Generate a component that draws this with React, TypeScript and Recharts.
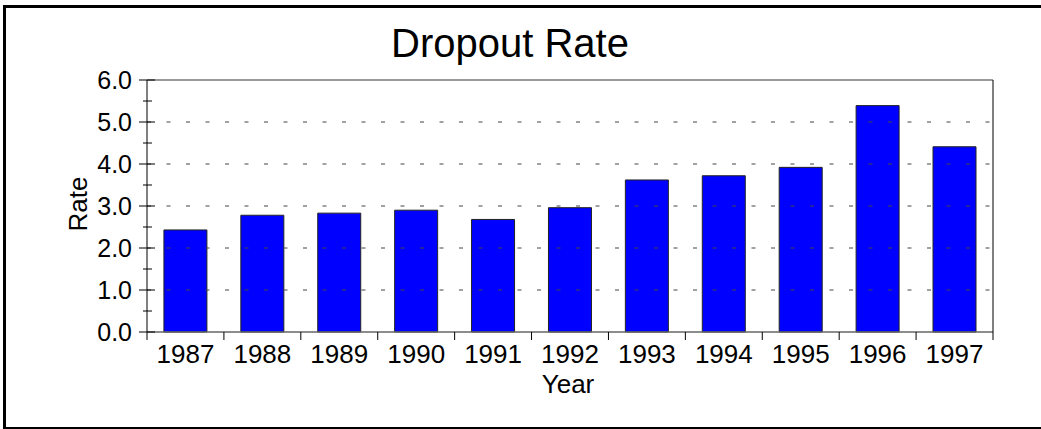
import React from 'react';
import { BarChart, Bar, XAxis, YAxis, ReferenceLine } from 'recharts';

const years = ['1987', '1988', '1989', '1990', '1991', '1992', '1993', '1994', '1995', '1996', '1997'];
const rates = [2.43, 2.78, 2.83, 2.9, 2.68, 2.96, 3.62, 3.72, 3.92, 5.39, 4.41];
const yTicks = [0, 0.5, 1, 1.5, 2, 2.5, 3, 3.5, 4, 4.5, 5, 5.5, 6];
const gridValues = [1, 2, 3, 4, 5];

const data = years.map((year, i) => ({ year, rate: rates[i] }));

const W = 1041;
const H = 429;
const margin = { top: 80, right: 38, bottom: 57, left: 87 };
const Y_AXIS_W = 60;
const RIGHT_AXIS_W = 10;
const plotWidth = W - margin.left - margin.right - Y_AXIS_W - RIGHT_AXIS_W;
const band = plotWidth / years.length;
const font = 'Arial, "Liberation Sans", sans-serif';

const LeftTick = ({ x, y, payload }: any) => {
  const major = Number.isInteger(payload.value);
  return (
    <g>
      <line x1={x - (major ? 8 : 4)} x2={x + (major ? 8 : 5)} y1={y} y2={y} stroke="#000" strokeWidth={1} />
      {major && (
        <text x={x - 15} y={y} dy="0.36em" textAnchor="end" fontSize={25} fontFamily={font} fill="#000">
          {payload.value.toFixed(1)}
        </text>
      )}
    </g>
  );
};

const BottomTick = ({ x, y, payload, index }: any) => (
  <g>
    <line x1={x - band / 2} x2={x - band / 2} y1={y} y2={y + 8} stroke="#000" strokeWidth={1} />
    {index === years.length - 1 && (
      <line x1={x + band / 2} x2={x + band / 2} y1={y} y2={y + 8} stroke="#000" strokeWidth={1} />
    )}
    <text x={x} y={y + 31} textAnchor="middle" fontSize={26} fontFamily={font} fill="#000">
      {payload.value}
    </text>
  </g>
);

export default function App() {
  return (
    <div style={{ position: 'absolute', left: 0, top: 0, width: W, height: H, background: '#fff' }}>
      <div
        style={{
          position: 'absolute',
          left: 3,
          top: 5,
          width: W + 20,
          height: 424,
          boxSizing: 'border-box',
          borderLeft: '3px solid #000',
          borderTop: '3px solid #000',
          borderBottom: '2px solid #000',
        }}
      />
      <div style={{ position: 'absolute', left: 0, top: 0 }}>
        <BarChart width={W} height={H} data={data} margin={margin} barCategoryGap="22%">
          {gridValues.map((v) => (
            <ReferenceLine key={v} yAxisId="left" y={v} stroke="#444" strokeDasharray="4 15.5" />
          ))}
          <ReferenceLine yAxisId="left" y={6} stroke="#777" strokeWidth={1.5} />
          <XAxis
            dataKey="year"
            height={40}
            tickSize={0}
            tickMargin={0}
            tickLine={false}
            axisLine={{ stroke: '#666', strokeWidth: 1.5 }}
            tick={<BottomTick />}
            interval={0}
          />
          <YAxis
            yAxisId="left"
            width={Y_AXIS_W}
            domain={[0, 6]}
            ticks={yTicks}
            interval={0}
            tickSize={0}
            tickMargin={0}
            tickLine={false}
            axisLine={{ stroke: '#000', strokeWidth: 1 }}
            tick={<LeftTick />}
          />
          <YAxis
            yAxisId="right"
            orientation="right"
            width={RIGHT_AXIS_W}
            domain={[0, 6]}
            ticks={[0, 1, 2, 3, 4, 5, 6]}
            tickSize={4}
            tickLine={{ stroke: '#000' }}
            tick={false}
            axisLine={{ stroke: '#000', strokeWidth: 1 }}
          />
          <Bar
            yAxisId="left"
            dataKey="rate"
            fill="#0000ff"
            stroke="#222"
            strokeWidth={1}
            isAnimationActive={false}
          />
        </BarChart>
      </div>
      <svg width={W} height={H} style={{ position: 'absolute', left: 0, top: 0, pointerEvents: 'none' }}>
        <text x={510} y={57} textAnchor="middle" fontSize={40} fontFamily={font} fill="#000">
          Dropout Rate
        </text>
        <text
          x={0}
          y={0}
          transform="translate(87,204) rotate(-90)"
          textAnchor="middle"
          fontSize={26}
          fontFamily={font}
          fill="#000"
        >
          Rate
        </text>
        <text x={568} y={393} textAnchor="middle" fontSize={26} fontFamily={font} fill="#000">
          Year
        </text>
      </svg>
    </div>
  );
}
